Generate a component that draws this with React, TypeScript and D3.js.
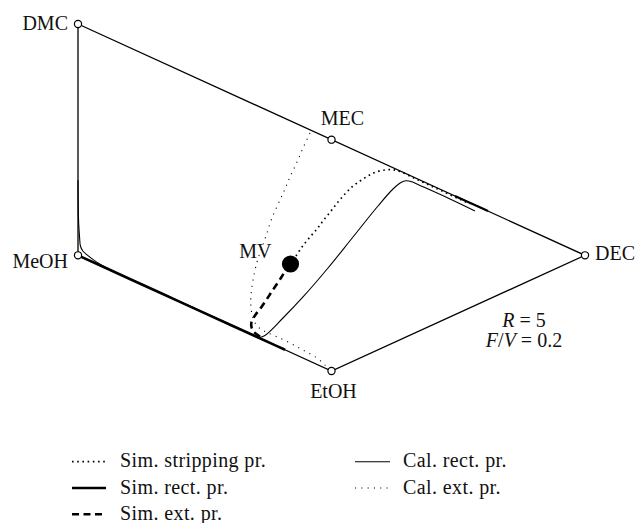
import React from "react";
import * as d3 from "d3";

// Vertices of the transformed composition space (x, y in [0, 1])
const vertexNames = ["DMC", "MEC", "DEC", "MeOH", "EtOH"];
const vertexX = [0, 0.5, 1, 0, 0.5];
const vertexY = [1, 2 / 3, 1 / 3, 1 / 3, 0];

// Outline of the diagram: DMC - DEC - EtOH - MeOH - DMC
const outlineOrder = ["DMC", "DEC", "EtOH", "MeOH", "DMC"];

// Mid-vessel composition
const mvPoint: [number, number] = [0.4191, 0.3084];

// Simulated stripping profile (from MV up to the DMC-DEC edge)
const simStripping: [number, number][] = [
  [0.43, 0.3314], [0.4418, 0.3573], [0.4576, 0.3862], [0.4714, 0.4092],
  [0.4832, 0.4323], [0.499, 0.4611], [0.5128, 0.487], [0.5266, 0.5101],
  [0.5404, 0.5303], [0.5562, 0.5476], [0.572, 0.562], [0.5878, 0.5735],
  [0.6055, 0.5793], [0.6213, 0.58], [0.6351, 0.575], [0.6647, 0.5548],
  [0.6943, 0.5348], [0.7239, 0.5148], [0.7535, 0.4948], [0.7732, 0.4818],
];
// Dense end of the stripping profile lying on the DMC-DEC edge
const simStrippingEnd: [number, number][] = [
  [0.7436, 0.5043], [0.776, 0.4826], [0.8087, 0.4609],
];

// Simulated rectifying profile (along the MeOH-EtOH edge)
const simRect: [number, number][] = [
  [0.0, 0.3333], [0.1, 0.2667], [0.2, 0.2], [0.3, 0.1333],
  [0.35, 0.1], [0.385, 0.0768], [0.4083, 0.0611],
];

// Simulated extractive profile (from the MeOH-EtOH edge up to MV)
const simExt: [number, number][] = [
  [0.359, 0.0994], [0.3471, 0.1124], [0.3422, 0.1268], [0.3422, 0.1412],
  [0.3491, 0.1599], [0.3623, 0.1853], [0.3821, 0.2285], [0.4018, 0.2718],
  [0.4122, 0.2968],
];

// Calculated rectifying profile
const calRect: [number, number][] = [
  [0.0, 0.55], [0.0012, 0.43], [0.0032, 0.3833], [0.0048, 0.3602], [0.0095, 0.3458],
  [0.0197, 0.3325], [0.0355, 0.3153], [0.0631, 0.2922], [0.142, 0.2395],
  [0.2406, 0.1738], [0.3393, 0.1078], [0.355, 0.0974], [0.3669, 0.1009],
  [0.4043, 0.1527], [0.4438, 0.2133], [0.4931, 0.2968], [0.5424, 0.3862],
  [0.5917, 0.4755], [0.6213, 0.5245], [0.6371, 0.5432],
  [0.6469, 0.5481], [0.6568, 0.5461], [0.6746, 0.5346], [0.7337, 0.4957],
  [0.783, 0.4611],
];

// Calculated extractive profile (from near MEC down to EtOH)
const calExt: [number, number][] = [
  [0.4576, 0.6859], [0.4438, 0.6427], [0.432, 0.6023], [0.4181, 0.5591],
  [0.4083, 0.5245], [0.3984, 0.4928], [0.3826, 0.4409], [0.3708, 0.389],
  [0.3609, 0.3487], [0.3531, 0.3141], [0.3452, 0.2622], [0.3412, 0.219],
  [0.3412, 0.1844], [0.3452, 0.1527], [0.3531, 0.1297], [0.3669, 0.1153],
  [0.3886, 0.1009], [0.4181, 0.0807], [0.4438, 0.0605], [0.4714, 0.0375],
  [0.4892, 0.0144], [0.499, 0.0029],
];

// Legend entries
const legendLeft = ["Sim. stripping pr.", "Sim. rect. pr.", "Sim. ext. pr."];
const legendRight = ["Cal. rect. pr.", "Cal. ext. pr."];

// Operating parameters
const refluxRatio = "5";
const feedRatio = "0.2";

const W = 637;
const H = 523;
const FONT = "'Liberation Serif', 'Times New Roman', serif";

type Style = { width: number; dash?: string };
const styles: Record<string, Style> = {
  simStripping: { width: 1.7, dash: "1.6 3.6" },
  simRect: { width: 2.6 },
  simExt: { width: 2.6, dash: "7 4.5" },
  calRect: { width: 1.1 },
  calExt: { width: 1.1, dash: "1.1 5.2" },
};

export default function App() {
  const x = d3.scaleLinear().domain([0, 1]).range([78, 585]);
  const y = d3.scaleLinear().domain([0, 1]).range([371, 24]);

  const smooth = d3
    .line<[number, number]>()
    .x((d) => x(d[0]))
    .y((d) => y(d[1]))
    .curve(d3.curveCatmullRom.alpha(0.5));
  const straight = d3
    .line<[number, number]>()
    .x((d) => x(d[0]))
    .y((d) => y(d[1]));

  const vx = (n: string) => vertexX[vertexNames.indexOf(n)];
  const vy = (n: string) => vertexY[vertexNames.indexOf(n)];
  const outline = outlineOrder.map((n) => [vx(n), vy(n)] as [number, number]);

  const labelPlacement: Record<string, { dx: number; dy: number; anchor: string }> = {
    DMC: { dx: -10, dy: 5.5, anchor: "end" },
    MEC: { dx: 11, dy: -15, anchor: "middle" },
    DEC: { dx: 10, dy: 4.5, anchor: "start" },
    MeOH: { dx: -10, dy: 13, anchor: "end" },
    EtOH: { dx: 2, dy: 26.5, anchor: "middle" },
  };

  const pathProps = (key: string) => {
    const s = styles[key];
    return {
      fill: "none",
      stroke: "#000",
      strokeWidth: s.width,
      strokeDasharray: s.dash,
      strokeLinecap: "butt" as any,
      strokeLinejoin: "round" as any,
    };
  };

  const legendRowY = [461.7, 488, 514.3];
  const leftKeys = ["simStripping", "simRect", "simExt"];
  const rightKeys = ["calRect", "calExt"];

  return (
    <svg
      width={W}
      height={H}
      style={{ position: "absolute", left: 0, top: 0, background: "#fff" }}
      fontFamily={FONT}
    >
      <rect x={0} y={0} width={W} height={H} fill="#fff" />
      {/* Diagram outline */}
      <path d={straight(outline) || ""} fill="none" stroke="#000" strokeWidth={1.3} />

      {/* Profiles */}
      <path d={smooth(calRect) || ""} {...pathProps("calRect")} />
      <path d={smooth(simRect) || ""} {...pathProps("simRect")} />
      <path d={smooth(calExt) || ""} {...pathProps("calExt")} />
      <path d={smooth(simStripping) || ""} {...pathProps("simStripping")} />
      <path d={smooth(simStrippingEnd) || ""} fill="none" stroke="#000" strokeWidth={2.2} />
      <path d={smooth(simExt) || ""} {...pathProps("simExt")} />

      {/* Mid-vessel point */}
      <circle cx={x(mvPoint[0])} cy={y(mvPoint[1])} r={8.6} fill="#000" />
      <text
        x={x(mvPoint[0]) - 19}
        y={y(mvPoint[1]) - 6}
        textAnchor="end"
        fontSize={20}
        fill="#111"
      >
        MV
      </text>

      {/* Vertices */}
      {vertexNames.map((n, i) => (
        <g key={n}>
          <circle
            cx={x(vertexX[i])}
            cy={y(vertexY[i])}
            r={3.6}
            fill="#fff"
            stroke="#000"
            strokeWidth={1.2}
          />
          <text
            x={x(vertexX[i]) + labelPlacement[n].dx}
            y={y(vertexY[i]) + labelPlacement[n].dy}
            textAnchor={labelPlacement[n].anchor as any}
            fontSize={20}
            fill="#111"
          >
            {n}
          </text>
        </g>
      ))}

      {/* Parameters */}
      <text x={524} y={326.7} textAnchor="middle" fontSize={20} fill="#111">
        <tspan fontStyle="italic">R</tspan>
        <tspan>{" = " + refluxRatio}</tspan>
      </text>
      <text x={524} y={346.7} textAnchor="middle" fontSize={20} fill="#111">
        <tspan fontStyle="italic">F</tspan>
        <tspan>/</tspan>
        <tspan fontStyle="italic">V</tspan>
        <tspan>{" = " + feedRatio}</tspan>
      </text>

      {/* Legend */}
      {legendLeft.map((label, i) => (
        <g key={label}>
          <line
            x1={72}
            x2={106}
            y1={legendRowY[i]}
            y2={legendRowY[i]}
            {...pathProps(leftKeys[i])}
          />
          <text
            x={120}
            y={legendRowY[i] + 5.5}
            fontSize={20}
            letterSpacing={0.4}
            fill="#111"
          >
            {label}
          </text>
        </g>
      ))}
      {legendRight.map((label, i) => (
        <g key={label}>
          <line
            x1={355}
            x2={390}
            y1={legendRowY[i]}
            y2={legendRowY[i]}
            {...pathProps(rightKeys[i])}
          />
          <text
            x={403}
            y={legendRowY[i] + 5.5}
            fontSize={20}
            letterSpacing={0.4}
            fill="#111"
          >
            {label}
          </text>
        </g>
      ))}
    </svg>
  );
}
